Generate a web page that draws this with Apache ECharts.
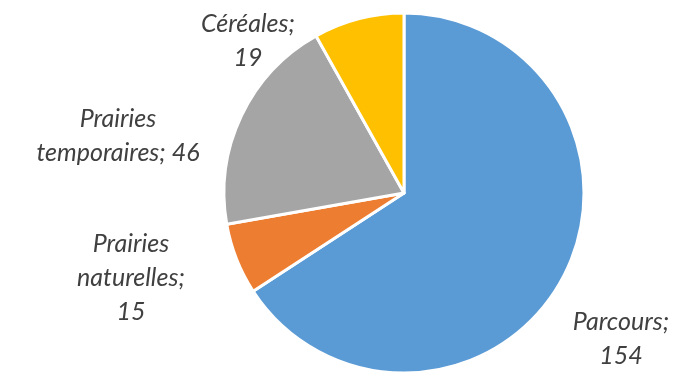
<!DOCTYPE html>
<html><head><meta charset="utf-8">
<script src="https://cdn.jsdelivr.net/npm/echarts@6/dist/echarts.min.js"></script>
<style>html,body{margin:0;padding:0;background:#fff}#c{width:688px;height:372px}</style>
</head><body><div id="c"></div>
<script>
const categories = ['Parcours', 'Prairies naturelles', 'Prairies temporaires', 'Céréales'];
const values = [154, 15, 46, 19];
const labelTexts = ['Parcours;\n154', 'Prairies\nnaturelles;\n15', 'Prairies\ntemporaires; 46', 'Céréales;\n19'];
const colors = ['#5B9BD5', '#ED7D31', '#A5A5A5', '#FFC000'];
// label anchor positions (layout only)
const labelPos = [[621, 339], [131, 278], [118, 136], [248, 41]];

const chart = echarts.init(document.getElementById('c'), null, {renderer: 'canvas'});
chart.setOption({
  animation: false,
  series: [{
    type: 'pie',
    center: [404, 193],
    radius: [0, 180],
    startAngle: 90,
    clockwise: true,
    avoidLabelOverlap: false,
    itemStyle: {borderColor: '#fff', borderWidth: 3},
    label: {
      show: true,
      position: 'outside',
      formatter: p => labelTexts[p.dataIndex],
      fontFamily: 'Lato',
      fontStyle: 'italic',
      fontSize: 25,
      lineHeight: 34,
      color: '#404040',
      align: 'center'
    },
    labelLine: {show: false},
    labelLayout: p => ({x: labelPos[p.dataIndex][0], y: labelPos[p.dataIndex][1], align: 'center', verticalAlign: 'middle'}),
    emphasis: {disabled: true},
    data: categories.map((c, i) => ({name: c, value: values[i], itemStyle: {color: colors[i]}}))
  }]
});
</script></body></html>
